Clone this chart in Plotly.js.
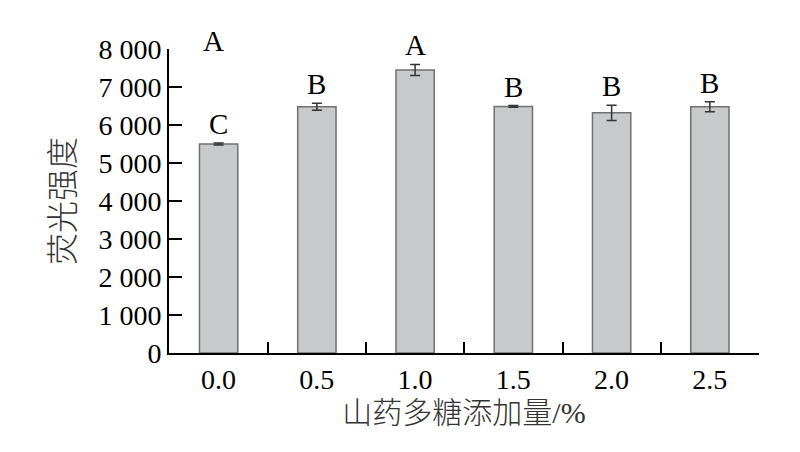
<!DOCTYPE html>
<html>
<head>
<meta charset="utf-8">
<script src="https://cdn.plot.ly/plotly-3.0.1.min.js"></script>
<style>html,body{margin:0;padding:0;background:#fff;}#chart{width:800px;height:452px;}</style>
</head>
<body>
<div id="chart"></div>
<script>
// Data
const categories = ["0.0", "0.5", "1.0", "1.5", "2.0", "2.5"];
const fluorescence = [5500, 6480, 7450, 6490, 6320, 6480];
const errors = [25, 90, 145, 20, 200, 130];
const sigLetters = ["C", "B", "A", "B", "B", "B"];
const yTickVals = [0, 1000, 2000, 3000, 4000, 5000, 6000, 7000, 8000];
const yTickText = ["0", "1 000", "2 000", "3 000", "4 000", "5 000", "6 000", "7 000", "8 000"];
const xTitle = "山药多糖添加量/%";
const yTitle = "荧光强度";
const cornerLabel = "A";

const serif = "'Liberation Serif', 'Times New Roman', serif";
const cjk = "'Liberation Serif', 'Noto Sans CJK SC', serif";

const trace = {
  type: "bar",
  x: categories,
  y: fluorescence,
  width: 0.39,
  marker: {color: "#c8c9cb", line: {color: "#707070", width: 1.5}},
  error_y: {type: "data", array: errors, visible: true, color: "#333333", thickness: 1.5, width: 5},
  hoverinfo: "skip"
};

const annotations = categories.map((c, i) => ({
  x: i, y: fluorescence[i] + errors[i], xref: "x", yref: "y",
  text: sigLetters[i], showarrow: false, xanchor: "center", yanchor: "middle", yshift: 19,
  font: {family: serif, size: 29, color: "#000"}
}));
annotations.push({
  x: 0.075, y: 1.025, xref: "paper", yref: "paper", text: cornerLabel,
  showarrow: false, xanchor: "center", yanchor: "middle",
  font: {family: serif, size: 29, color: "#000"}
});

const layout = {
  width: 800, height: 452,
  margin: {l: 169, r: 41, t: 49, b: 99, pad: 0},
  paper_bgcolor: "#fff", plot_bgcolor: "#fff",
  showlegend: false,
  xaxis: {
    type: "category", range: [-0.505, 5.5],
    showline: true, linecolor: "#000", linewidth: 2,
    ticks: "inside", ticklen: 11, tickwidth: 2, tickcolor: "#000",
    tickson: "boundaries", showgrid: false, zeroline: false,
    tickfont: {family: serif, size: 28, color: "#000"},
    title: {text: xTitle, font: {family: cjk, size: 30, color: "#333", weight: 300}, standoff: 8}
  },
  yaxis: {
    range: [0, 8000], tickvals: yTickVals, ticktext: yTickText,
    showline: true, linecolor: "#000", linewidth: 2,
    ticks: "inside", ticklen: 13, tickwidth: 2, tickcolor: "#000",
    showgrid: false, zeroline: false,
    tickfont: {family: serif, size: 28, color: "#000"},
    title: {text: yTitle, font: {family: cjk, size: 32, color: "#333", weight: 300}, standoff: 14}
  },
  annotations: annotations
};

Plotly.newPlot("chart", [trace], layout, {staticPlot: true, displayModeBar: false});
</script>
</body>
</html>
